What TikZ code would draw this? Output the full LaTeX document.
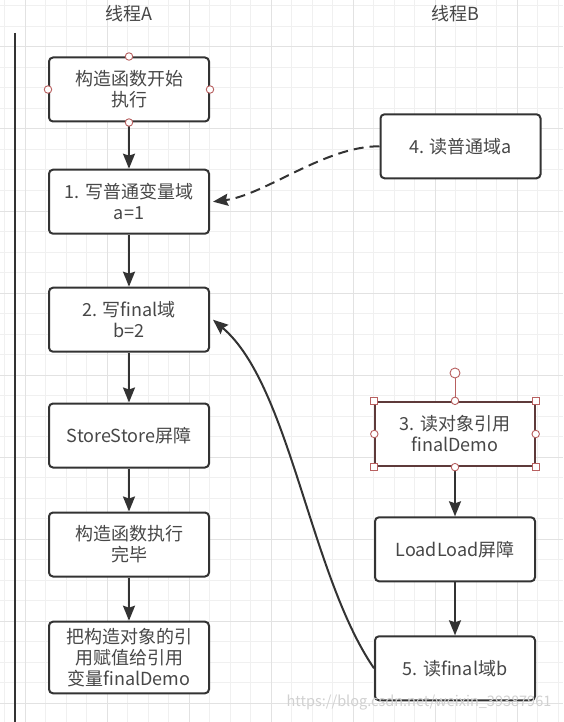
\documentclass[tikz,border=0pt]{standalone}
\usepackage{fontspec}
\setmainfont{Noto Sans CJK SC}
\usetikzlibrary{arrows.meta}

\definecolor{ink}{HTML}{333333}
\definecolor{handle}{HTML}{B86060}
\definecolor{pick}{HTML}{5E3A3A}
\definecolor{gridminor}{HTML}{F0F0F0}
\definecolor{gridmajor}{HTML}{E2E2E2}

\tikzset{
  stepbox/.style={draw=ink, line width=2pt, rounded corners=4pt, fill=white,
    minimum width=160pt, minimum height=64pt, inner sep=0pt, align=center,
    text=ink!90, font=\fontsize{18}{21}\selectfont},
  flow/.style={draw=ink, line width=2pt, -{Stealth[length=15pt,width=12pt,inset=2pt]}},
  grip/.style={circle, draw=handle, fill=white, line width=0.9pt, minimum size=7.5pt, inner sep=0pt},
  corner/.style={rectangle, draw=handle, fill=white, line width=0.9pt, minimum size=7pt, inner sep=0pt},
}

\begin{document}
\begin{tikzpicture}[x=1pt, y=-1pt]
  \useasboundingbox[fill=white] (0,0) rectangle (563,722);
  % grid
  \foreach \i in {0,...,27}
    \draw[gridminor, line width=1pt] ({4.5+20.5*\i},0) -- ++(0,722);
  \foreach \i in {0,...,34}
    \draw[gridminor, line width=1pt] (0,{6+20.5*\i}) -- ++(563,0);
  \foreach \i in {1,5,...,25}
    \draw[gridmajor, line width=1pt] ({4.5+20.5*\i},0) -- ++(0,722);
  \foreach \i in {2,6,...,34}
    \draw[gridmajor, line width=1pt] (0,{6+20.5*\i}) -- ++(563,0);

  % lane
  \coordinate (laneTop) at (15,33);
  \coordinate (laneEnd) at (15,722);
  \draw[ink, line width=2.2pt] (laneTop) -- (laneEnd);
  \node[text=ink!90, font=\fontsize{18}{20}\selectfont] (ta) at (129,14) {线程A};
  \node[text=ink!90, font=\fontsize{18}{20}\selectfont] (tb) at (455,14) {线程B};

  % thread A
  \node[stepbox] (a0) at (129,89.5) {构造函数开始\\执行};
  \node[stepbox] (a1) at (129,201.7) {1. 写普通变量域\\a=1};
  \node[stepbox] (a2) at (129,319.7) {2. 写final域\\b=2};
  \node[stepbox] (a3) at (129,435.5) {StoreStore屏障};
  \node[stepbox] (a4) at (129,544.5) {构造函数执行\\完毕};
  \node[stepbox, minimum height=71.6pt] (a5) at (129,657.5) {把构造对象的引\\用赋值给引用\\变量finalDemo};

  % thread B
  \node[stepbox] (b4) at (460.5,146.3) {4. 读普通域a};
  \node[stepbox, draw=pick, rounded corners=0pt, minimum width=159.4pt, minimum height=64.3pt] (b3) at (455,434) {3. 读对象引用\\finalDemo};
  \node[stepbox] (b6) at (455,549.3) {LoadLoad屏障};
  \node[stepbox] (b5) at (455,668.3) {5. 读final域b};

  \foreach \u/\v in {a0/a1,a1/a2,a2/a3,a3/a4,a4/a5,b3/b6,b6/b5}
    \draw[flow] (\u) -- (\v);

  \draw[flow, dash pattern=on 10pt off 6pt] (b4.west) .. controls (325,146) and (265,195) .. ([xshift=3pt]a1.east);
  \draw[flow] (b5.west) .. controls (310,575) and (290,385) .. ([xshift=3pt]a2.east);

  % selection handles
  \foreach \a in {north,south,east,west}
    \node[grip] at (a0.\a) {};
  \node[grip, minimum size=10pt] (turn) at (455,373) {};
  \draw[handle, line width=0.9pt] (turn) -- (b3.north);
  \foreach \a in {north,south,east,west}
    \node[grip] at (b3.\a) {};
  \foreach \a in {north west,north east,south west,south east}
    \node[corner] at (b3.\a) {};

  \node[text=black!18, font=\fontsize{14.5}{15}\selectfont] (wm) at (419,703) {https://blog.csdn.net/weixin\_39387961};
\end{tikzpicture}
\end{document}
